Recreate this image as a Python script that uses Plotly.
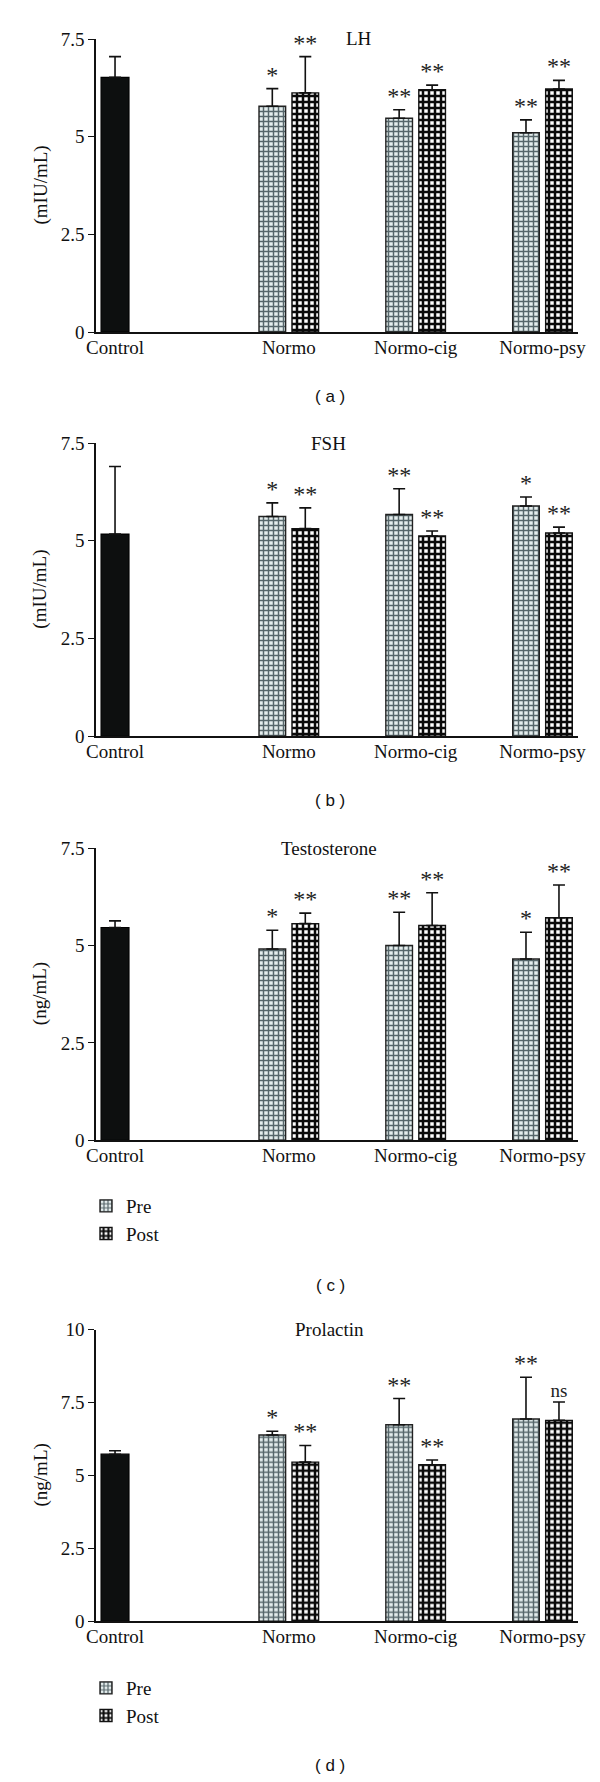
import plotly.graph_objects as go

# ---------------- data ----------------
categories = ["Control", "Normo", "Normo-cig", "Normo-psy"]
groups = ["Normo", "Normo-cig", "Normo-psy"]

panel_titles = ["LH", "FSH", "Testosterone", "Prolactin"]
panel_units = ["(mIU/mL)", "(mIU/mL)", "(ng/mL)", "(ng/mL)"]
panel_letters = ["( a )", "( b )", "( c )", "( d )"]
y_max = [7.5, 7.5, 7.5, 10]
y_ticks = [[0, 2.5, 5, 7.5], [0, 2.5, 5, 7.5], [0, 2.5, 5, 7.5], [0, 2.5, 5, 7.5, 10]]
y_ticktext = [["0", "2.5", "5", "7.5"], ["0", "2.5", "5", "7.5"], ["0", "2.5", "5", "7.5"],
              ["0", "2.5", "5", "7.5", "10"]]

# LH
lh_control = 6.52
lh_control_err = 0.53
lh_pre = [5.78, 5.47, 5.10]
lh_pre_err = [0.45, 0.22, 0.33]
lh_post = [6.12, 6.20, 6.22]
lh_post_err = [0.93, 0.12, 0.22]
lh_pre_sig = ["*", "**", "**"]
lh_post_sig = ["**", "**", "**"]

# FSH
fsh_control = 5.17
fsh_control_err = 1.73
fsh_pre = [5.62, 5.67, 5.89]
fsh_pre_err = [0.35, 0.66, 0.23]
fsh_post = [5.31, 5.12, 5.20]
fsh_post_err = [0.53, 0.13, 0.15]
fsh_pre_sig = ["*", "**", "*"]
fsh_post_sig = ["**", "**", "**"]

# Testosterone
tes_control = 5.46
tes_control_err = 0.17
tes_pre = [4.91, 5.00, 4.65]
tes_pre_err = [0.48, 0.85, 0.69]
tes_post = [5.56, 5.51, 5.71]
tes_post_err = [0.27, 0.84, 0.84]
tes_pre_sig = ["*", "**", "*"]
tes_post_sig = ["**", "**", "**"]

# Prolactin
prl_control = 5.73
prl_control_err = 0.12
prl_pre = [6.39, 6.74, 6.94]
prl_pre_err = [0.13, 0.90, 1.43]
prl_post = [5.46, 5.37, 6.89]
prl_post_err = [0.57, 0.16, 0.63]
prl_pre_sig = ["*", "**", "**"]
prl_post_sig = ["**", "**", "ns"]

series_names = ["Pre", "Post"]

# ---------------- layout constants ----------------
W, H = 600, 1782
SERIF = "Liberation Serif, Times New Roman, serif"
SANS = "Liberation Sans, Arial, sans-serif"

cat_pos = {"Control": 0.0, "Normo": 1.37, "Normo-cig": 2.37, "Normo-psy": 3.37}
x_range = [-0.15, 3.65]
bar_w = 0.21
ctrl_w = 0.22
pre_off = -0.235
post_off = 0.025

# pixel boxes for each panel (top, bottom) of the plotting area
plot_left, plot_right = 88, 570
panel_px = [(31, 324), (435, 728.3), (840, 1132.3), (1321.7, 1613.3)]
title_x_px = [351, 320, 321, 321]
letter_y_px = [388, 792, 1277, 1757]

pre_pattern = dict(shape="+", fgcolor="#56666a", bgcolor="#e4eded", size=5, solidity=0.5,
                   fillmode="replace")
post_pattern = dict(shape="+", fgcolor="#0a0a0a", bgcolor="#ffffff", size=6, solidity=0.66,
                    fillmode="replace")


def sig_sizes(labels):
    return [24 if "*" in s else 19 for s in labels]


panels = [
    (lh_control, lh_control_err, lh_pre, lh_pre_err, lh_post, lh_post_err, lh_pre_sig, lh_post_sig),
    (fsh_control, fsh_control_err, fsh_pre, fsh_pre_err, fsh_post, fsh_post_err, fsh_pre_sig, fsh_post_sig),
    (tes_control, tes_control_err, tes_pre, tes_pre_err, tes_post, tes_post_err, tes_pre_sig, tes_post_sig),
    (prl_control, prl_control_err, prl_pre, prl_pre_err, prl_post, prl_post_err, prl_pre_sig, prl_post_sig),
]

fig = go.Figure()
annotations = []
layout_axes = {}

for i, (ctrl, ctrl_err, pre, pre_err, post, post_err, pre_sig, post_sig) in enumerate(panels):
    n = i + 1
    xa = "x" if n == 1 else f"x{n}"
    ya = "y" if n == 1 else f"y{n}"
    gx = [cat_pos[g] for g in groups]
    legend_name = None
    if i == 2:
        legend_name = "legend"
    elif i == 3:
        legend_name = "legend2"
    show_leg = legend_name is not None
    leg_kwargs = dict(legend=legend_name) if show_leg else {}

    # control bar
    fig.add_trace(go.Bar(
        x=[cat_pos["Control"]], y=[ctrl], width=ctrl_w, xaxis=xa, yaxis=ya,
        marker=dict(color="#0d0f0f", line=dict(color="#000", width=1.2)),
        error_y=dict(type="data", symmetric=False, array=[ctrl_err], arrayminus=[0],
                     color="#111", thickness=1.6, width=6),
        showlegend=False, hoverinfo="skip"))
    # pre bars
    fig.add_trace(go.Bar(
        x=gx, y=pre, width=bar_w, offset=pre_off, xaxis=xa, yaxis=ya, name=series_names[0],
        marker=dict(color="#e4eded", pattern=pre_pattern, line=dict(color="#222", width=1.4)),
        error_y=dict(type="data", symmetric=False, array=pre_err, arrayminus=[0] * len(pre),
                     color="#111", thickness=1.6, width=6),
        showlegend=show_leg, hoverinfo="skip", **leg_kwargs))
    # post bars
    fig.add_trace(go.Bar(
        x=gx, y=post, width=bar_w, offset=post_off, xaxis=xa, yaxis=ya, name=series_names[1],
        marker=dict(color="#ffffff", pattern=post_pattern, line=dict(color="#111", width=1.4)),
        error_y=dict(type="data", symmetric=False, array=post_err, arrayminus=[0] * len(post),
                     color="#111", thickness=1.6, width=6),
        showlegend=show_leg, hoverinfo="skip", **leg_kwargs))

    # significance markers
    fig.add_trace(go.Scatter(
        x=[p + pre_off + bar_w / 2 for p in gx], y=[v + e for v, e in zip(pre, pre_err)],
        mode="text", text=pre_sig, textposition="top center", xaxis=xa, yaxis=ya,
        cliponaxis=False,
        textfont=dict(family=SERIF, size=sig_sizes(pre_sig), color="#222"),
        showlegend=False, hoverinfo="skip"))
    fig.add_trace(go.Scatter(
        x=[p + post_off + bar_w / 2 for p in gx], y=[v + e for v, e in zip(post, post_err)],
        mode="text", text=post_sig, textposition="top center", xaxis=xa, yaxis=ya,
        cliponaxis=False,
        textfont=dict(family=SERIF, size=sig_sizes(post_sig), color="#222"),
        showlegend=False, hoverinfo="skip"))

    top_px, bot_px = panel_px[i]
    ydom = [1 - bot_px / H, 1 - top_px / H]
    xdom = [plot_left / W, plot_right / W]
    xkey = "xaxis" if n == 1 else f"xaxis{n}"
    ykey = "yaxis" if n == 1 else f"yaxis{n}"
    layout_axes[xkey] = dict(
        domain=xdom, anchor=ya, range=x_range, showgrid=False, zeroline=False,
        showline=True, linecolor="#111", linewidth=1.6, ticks="", automargin=False,
        tickvals=[cat_pos[c] for c in categories], ticktext=categories,
        ticklabelstandoff=-3,
        tickfont=dict(family=SERIF, size=19, color="#111"))
    layout_axes[ykey] = dict(
        domain=ydom, anchor=xa, range=[0, y_max[i]], showgrid=False, zeroline=False,
        showline=True, linecolor="#111", linewidth=1.6, ticks="outside", ticklen=6,
        tickwidth=1.4, tickcolor="#111", tickvals=y_ticks[i], ticktext=y_ticktext[i],
        automargin=False, tickfont=dict(family=SERIF, size=19, color="#111"))

    # panel title
    annotations.append(dict(
        x=title_x_px[i] / W, y=1 - top_px / H, xref="paper", yref="paper",
        text=panel_titles[i], showarrow=False, xanchor="center", yanchor="middle",
        font=dict(family=SERIF, size=19, color="#111")))
    # y unit title
    annotations.append(dict(
        x=32 / W, y=1 - (top_px + bot_px) / 2 / H, xref="paper", yref="paper",
        text=panel_units[i], showarrow=False, textangle=-90, xanchor="center", yanchor="middle",
        font=dict(family=SERIF, size=19, color="#111")))
    # panel letter
    annotations.append(dict(
        x=322 / W, y=1 - letter_y_px[i] / H, xref="paper", yref="paper",
        text=panel_letters[i], showarrow=False, xanchor="center", yanchor="middle",
        font=dict(family=SANS, size=17, color="#111")))

legend_style = dict(
    xanchor="left", yanchor="top", bgcolor="rgba(0,0,0,0)", borderwidth=0,
    font=dict(family=SERIF, size=19, color="#111"), tracegroupgap=0, itemwidth=30,
    orientation="v")

fig.update_layout(
    width=W, height=H, margin=dict(l=0, r=0, t=0, b=0, autoexpand=False),
    paper_bgcolor="white", plot_bgcolor="white", barmode="overlay",
    annotations=annotations,
    legend=dict(x=78 / W, y=1 - 1179 / H, **legend_style),
    legend2=dict(x=78 / W, y=1 - 1661 / H, **legend_style),
    **layout_axes)

fig.write_html("out.html")
